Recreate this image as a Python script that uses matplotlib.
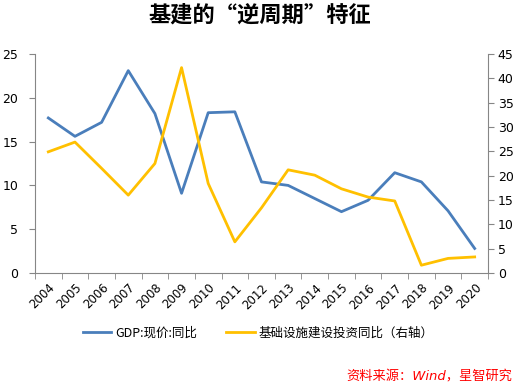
import numpy as np
import matplotlib
matplotlib.use("Agg")
import matplotlib.pyplot as plt

plt.rcParams['font.family'] = ['DejaVu Sans', 'Noto Sans CJK SC']

years = [str(y) for y in range(2004, 2021)]
gdp = [17.7, 15.6, 17.2, 23.1, 18.2, 9.1, 18.3, 18.4, 10.4, 10.0,
       8.5, 7.0, 8.3, 11.45, 10.4, 7.1, 2.8]
infra = [24.9, 26.9, 21.5, 16.0, 22.5, 42.2, 18.4, 6.4, 13.4, 21.2,
         20.1, 17.3, 15.6, 14.8, 1.6, 3.0, 3.3]

blue = '#4A7EBB'
yellow = '#FFC000'
axis_gray = '#868686'
cjk = ['Noto Sans CJK SC', 'DejaVu Sans']

fig = plt.figure(figsize=(5.21, 3.88), dpi=100)
ax = fig.add_axes([35/521, 1-273/388, (488-35)/521, (273-54)/388])
ax2 = ax.twinx()

x = np.arange(len(years))
l1, = ax.plot(x, gdp, color=blue, lw=2, label='GDP:现价:同比')
l2, = ax2.plot(x, infra, color=yellow, lw=2, label='基础设施建设投资同比（右轴）')

ax.set_xlim(-0.5, len(years) - 0.5)
ax.set_ylim(0, 25)
ax2.set_ylim(0, 45)
ax.set_yticks(range(0, 26, 5))
ax2.set_yticks(range(0, 46, 5))

ax.set_xticks(x)
ax.set_xticklabels(years, rotation=45, ha='right', rotation_mode='anchor', fontsize=8.5)
ax.set_xticks(np.arange(-0.5, len(years)), minor=True)
ax.tick_params(axis='x', which='major', length=0, pad=6)
ax.tick_params(axis='x', which='minor', length=4, color=axis_gray)
ax.tick_params(axis='y', length=4, color=axis_gray, labelsize=9, pad=8)
ax2.tick_params(axis='y', length=4, color=axis_gray, labelsize=9, pad=3)

for a in (ax, ax2):
    a.spines['top'].set_visible(False)
    for s in ('left', 'right', 'bottom'):
        a.spines[s].set_color(axis_gray)
ax2.spines['left'].set_visible(False)
ax2.spines['bottom'].set_visible(False)
ax.spines['right'].set_visible(False)

fig.text(260/521, 1-15/388, '基建的“逆周期”特征', ha='center', va='center',
         fontsize=16, fontweight='bold', family=cjk)

fig.legend(handles=[l1, l2], loc='center', bbox_to_anchor=(258/521, 1-333/388),
           ncol=2, frameon=False, prop={'family': cjk, 'size': 9},
           handlelength=2.3, columnspacing=2.3, handletextpad=0.3)

fig.text(512/521, 1-377/388, '资料来源：Wind，星智研究', ha='right', va='center',
         color='red', fontsize=9.5, style='oblique',
         family=['DejaVu Sans', 'Noto Sans CJK SC'])

fig.savefig('out.png', dpi=100)
